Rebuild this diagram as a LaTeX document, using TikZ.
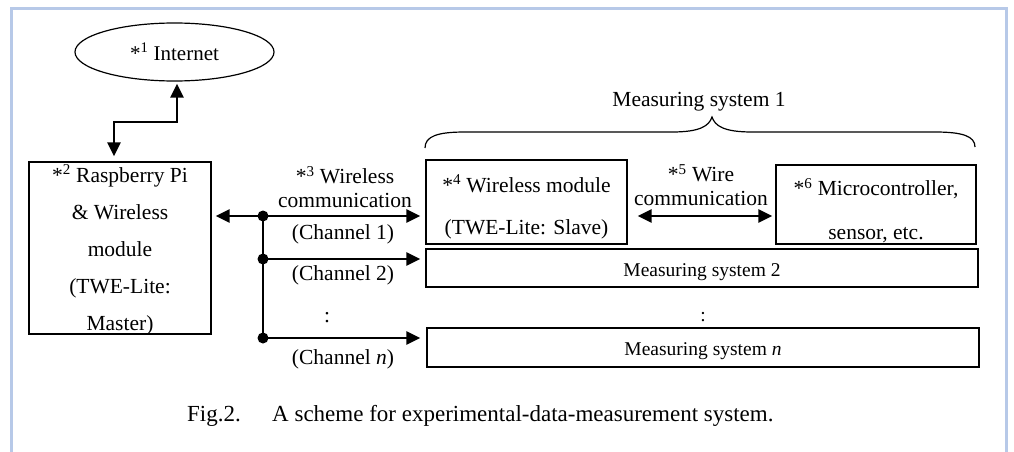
\documentclass[tikz,border=0pt]{standalone}
\usepackage{fontspec}
\setmainfont{Liberation Serif}
\usetikzlibrary{arrows.meta,shapes.geometric,calc}
\definecolor{framecol}{RGB}{183,201,232}
\begin{document}
\begin{tikzpicture}[x=1pt,y=-1pt,
  box/.style={draw, line width=1.4pt, inner sep=0pt, align=center},
  txt/.style={align=center, inner sep=0pt},
  arr/.style={line width=2.6pt, -{Triangle[length=14pt,width=13pt]}},
  darr/.style={line width=2.6pt, {Triangle[length=14pt,width=13pt]}-{Triangle[length=14pt,width=13pt]}},
  lbl/.style={font=\fontsize{21.5}{24}\selectfont, align=center, inner sep=0pt},
  dot/.style={circle, fill, inner sep=0pt, minimum size=11pt}
]
\useasboundingbox (0,0) rectangle (1014,452);
\draw[framecol, line width=3pt] (11,452) -- (11,9) -- (1006,9) -- (1006,452);

% nodes
\node[ellipse, draw, line width=1.2pt, minimum width=199pt, minimum height=58pt, inner sep=0pt,
      font=\fontsize{21}{24}\selectfont] (internet) at (174.5,52) {*\textsuperscript{1} Internet};

\node[box, minimum width=182pt, minimum height=172pt,
      label={[txt, yshift=-2pt, font=\fontsize{21.5}{37}\selectfont]center:{*\textsuperscript{2} Raspberry Pi\\ \& Wireless\\ module\\ (TWE-Lite:\\ Master)}}]
      (rpi) at (120,248) {};

\node[box, minimum width=201pt, minimum height=84pt,
      label={[txt, yshift=-5pt, font=\fontsize{21.5}{42}\selectfont]center:{*\textsuperscript{4} Wireless module\\ (TWE-Lite: Slave)}}]
      (box4) at (526.5,202) {};

\node[box, minimum width=200pt, minimum height=79pt,
      label={[txt, yshift=-6pt, font=\fontsize{21.5}{44}\selectfont]center:{*\textsuperscript{6} Microcontroller,\\ sensor, etc.}}]
      (box6) at (876,204.5) {};

\node[box, minimum width=552pt, minimum height=38pt,
      label={[txt, yshift=-4pt, font=\fontsize{19.5}{24}\selectfont]center:{Measuring system 2}}]
      (ms2) at (702,268) {};

\node[box, minimum width=552pt, minimum height=39pt,
      label={[txt, yshift=-4pt, font=\fontsize{19.5}{24}\selectfont]center:{Measuring system \textit{n}}}]
      (msn) at (703,347.5) {};

% labels
\node[lbl] (wl) at (345,187) {*\textsuperscript{3} Wireless\\communication};
\node[lbl] (c1) at (343,234) {(Channel 1)};
\node[lbl] (c2) at (343,275) {(Channel 2)};
\node[lbl] (cd) at (327,318) {:};
\node[lbl] (cn) at (343,359) {(Channel \textit{n})};
\node[lbl] (wire) at (701,185) {*\textsuperscript{5} Wire\\communication};
\node[lbl] (ms1) at (699,102) {Measuring system 1};
\node[lbl, font=\fontsize{19.5}{24}\selectfont] (vd) at (703,317) {:};

% internet link
\coordinate (bend) at (114,122);
\draw[darr, shorten <=5pt, shorten >=2pt] (rpi.north -| bend) -- (bend) -| ([xshift=2.5pt]internet.south);

% channels
\coordinate (j1) at (263,216);
\coordinate (j2) at (263,259);
\coordinate (j3) at (263,338);
\draw[line width=2.6pt] (j1) -- (j3);
\draw[arr, shorten >=4pt] (j1) -- (rpi.east |- j1);
\draw[arr, shorten >=5pt] (j1) -- (box4.west |- j1);
\draw[arr, shorten >=5pt] (j2) -- (ms2.west |- j2);
\draw[arr, shorten >=6pt] (j3) -- (msn.west |- j3);
\node[dot] (d1) at (j1) {};
\node[dot] (d2) at (j2) {};
\node[dot] (d3) at (j3) {};

% wire link
\coordinate (w) at (700,216);
\draw[darr, shorten <=10pt, shorten >=3pt] (box4.east |- w) -- (box6.west |- w);

% brace
\draw[line width=1.2pt] (425,148) .. controls (425,136) and (438,132) .. (465,132) -- (672,132)
  .. controls (700,132) and (709,126) .. (712,117)
  .. controls (715,126) and (724,132) .. (752,132) -- (935,132)
  .. controls (962,132) and (975,136) .. (975,147);

% caption
\node[anchor=base west, inner sep=0pt, font=\fontsize{23}{27}\selectfont] (fig) at (187,421) {Fig.2.};
\node[anchor=base west, inner sep=0pt, font=\fontsize{23}{27}\selectfont] (cap) at (272,421) {A scheme for experimental-data-measurement system.};
\end{tikzpicture}
\end{document}
